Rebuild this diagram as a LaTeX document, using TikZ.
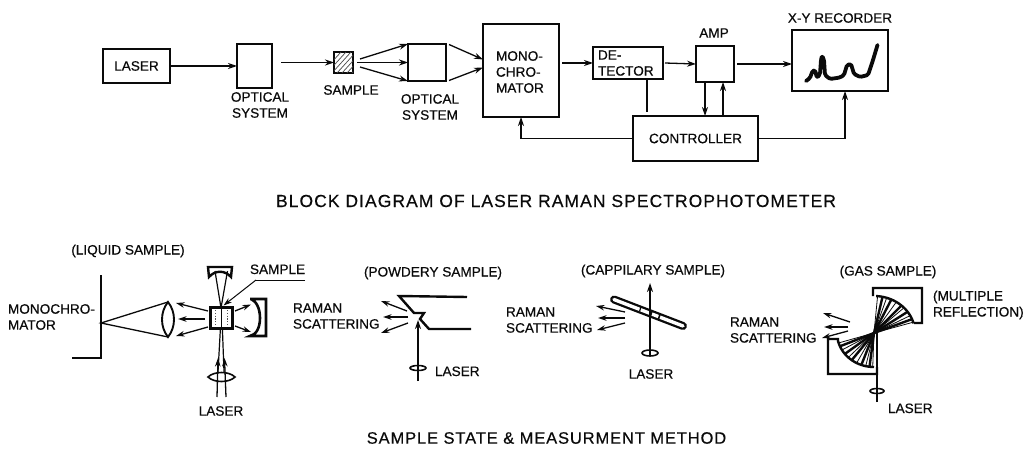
\documentclass[tikz,border=0pt]{standalone}
\usepackage{fontspec}
\setmainfont{Liberation Sans}[FakeBold=0.5]
\usetikzlibrary{arrows.meta,calc}
\tikzset{
  bx/.style={draw=ink,line width=2.4pt,inner sep=0pt,outer sep=0pt,fill=white,align=left},
  lab/.style={inner sep=0pt,outer sep=0pt,align=left,text=ink,font=\fontsize{13.6}{16}\selectfont\addfontfeature{FakeBold=0.5}},
  ttl/.style={inner sep=0pt,outer sep=0pt,text=ink,font=\fontsize{17.5}{20}\selectfont\addfontfeature{LetterSpace=6,FakeBold=0.5}},
  ttlb/.style={inner sep=0pt,outer sep=0pt,text=ink,font=\fontsize{16.5}{20}\selectfont\addfontfeature{LetterSpace=5.3,FakeBold=0.5}},
  arr/.style={draw=ink,line width=1.3pt,-{Stealth[length=9pt,width=6pt]}},
  arrb/.style={draw=ink,line width=1.3pt,-{Stealth[length=8.5pt,width=5.5pt]}},
  ln/.style={draw=ink,line width=1.3pt},
  thk/.style={draw=ink,line width=2.4pt,line join=miter},
  lens/.style={draw=ink,line width=1.6pt},
}
\definecolor{ink}{HTML}{0A0A0A}
\begin{document}
\begin{tikzpicture}[x=1pt,y=-1pt]
\useasboundingbox (0,0) rectangle (1030,449);
% ---- block diagram ----
\node[bx,minimum width=67pt,minimum height=34pt,lab] (laser) at (136.5,66) {LASER};
\node[bx,minimum width=35pt,minimum height=44pt] (opta) at (254.5,66) {};
\node[bx,minimum width=19pt,minimum height=21pt] (samp) at (343.5,62.5) {};
\begin{scope}
  \clip (samp.north west) rectangle (samp.south east);
  \foreach \d in {-12,-7,-2,3,8,13,18}
    \draw[ink!75,line width=.7pt] (334+\d,73) -- (353+\d,52);
\end{scope}
\node[bx,minimum width=38pt,minimum height=37pt] (optb) at (427,62.5) {};
\node[bx,minimum width=76pt,minimum height=93pt] (mono) at (521,70.5) {};
\node[lab,anchor=west] (monot) at (496,72) {MONO-\\CHRO-\\MATOR};
\node[bx,minimum width=70pt,minimum height=32pt] (det) at (628,63) {};
\node[lab,anchor=west] (dett) at (598,63) {DE-\\TECTOR};
\node[bx,minimum width=38pt,minimum height=36pt] (amp) at (715,64) {};
\node[bx,minimum width=96pt,minimum height=61pt] (rec) at (840,60.5) {};
\node[bx,minimum width=125pt,minimum height=45pt,lab] (ctl) at (695.5,138.5) {CONTROLLER};
\node[lab] (ampt) at (714,33) {AMP};
\node[lab] (rect) at (840,18) {X-Y RECORDER};
\node[lab,align=center] (opat) at (260,105) {OPTICAL\\SYSTEM};
\node[lab] (sampt) at (351,90) {SAMPLE};
\node[lab,align=center] (opbt) at (430,107) {OPTICAL\\SYSTEM};
\node[ttl] (t1) at (556,201) {BLOCK DIAGRAM OF LASER RAMAN SPECTROPHOTOMETER};
\node[ttlb] (t2) at (546.5,438) {SAMPLE STATE \& MEASURMENT METHOD};
% connectors
\draw[arr] (laser.east) -- (opta.west);
\draw[arr] ([xshift=9pt]opta.east |- samp.west) -- (samp.west);
\draw[arr] ([shift={(7,-3.5)}]samp.east) -- (optb.north west);
\draw[arr] ([shift={(4,0)}]samp.east) -- (optb.west);
\draw[arr] ([shift={(7,4.5)}]samp.east) -- (optb.south west);
\draw[arr] ([shift={(3,-18)}]optb.east) -- ([yshift=11pt]mono.west);
\draw[arr] ([shift={(3,18)}]optb.east) -- ([yshift=3pt]mono.west);
\draw[arr] ([xshift=3pt]mono.east |- det.west) -- (det.west);
\draw[arr] ([xshift=2pt]det.east) -- (amp.west);
\draw[arr] ([xshift=3pt]amp.east) -- (rec.west |- amp.east);
\draw[ln] ([xshift=19pt]det.south) -- ++(0,33);
\draw[arr] ([xshift=-10pt]amp.south) -- ([xshift=-10pt]amp.south |- ctl.north);
\draw[arr] ([xshift=8pt]amp.south |- ctl.north) -- ([xshift=8pt]amp.south);
\draw[arr] (ctl.east) -| ([xshift=5pt]rec.south);
\draw[arr] (ctl.west) -| (mono.south);
% recorder trace
\draw[ink,line width=3.8pt,line join=round,line cap=round,rounded corners=1.5pt]
  (806,81) -- (810,78) -- (812.5,71) -- (815,70) -- (817,78) -- (820,74) -- (821,60) -- (822,55.5) -- (824,60) -- (825,75) -- (830,79) -- (840,77.5) -- (844,75) -- (847,65) -- (851,64) -- (854,74) -- (860,77) -- (868,75) -- (873,60) -- (877.5,45);
% ---- liquid ----
\node[lab] (liqt) at (128,251) {(LIQUID SAMPLE)};
\node[lab,anchor=west] (mont) at (8,317) {MONOCHRO-\\MATOR};
\draw[thk] (101,275) -- (101,358) -- (72,358);
\coordinate (foc) at (101,323);
\coordinate (lt) at (168,302);
\coordinate (lb) at (168,337);
\draw[ln] (lt) -- (foc) -- (lb);
\draw[ink,line width=1.9pt] (lt) .. controls (160,312) and (160,327) .. (lb) .. controls (176,327) and (176,312) .. (lt) -- cycle;
\draw[arrb] (208,311) -- (176,303);
\draw[arrb] (205,319) -- (178,319);
\draw[arrb] (208,327) -- (176,336);
% beams
\draw[ln,line width=1.2pt] (218,372) -- (221,318);
\draw[ln,line width=1.2pt] (224,372) -- (222,318);
\draw[arrb] (217,397) -- (218,358);
\draw[arrb] (226,397) -- (224.5,358);
\draw[lens,fill=none] (208,377) .. controls (214,371) and (229,371) .. (235,377) .. controls (229,383) and (214,383) .. cycle;
% cell
\node[bx,minimum width=22pt,minimum height=21pt] (cell) at (221.5,318) {};
\draw[ink,line width=1.1pt] (221.5,308) -- (221.5,328);
\draw[ink!70,line width=1.8pt,dash pattern=on 1.2pt off 1.6pt] (215.5,310) -- (215.5,326);
\draw[ink!70,line width=1.8pt,dash pattern=on 1.2pt off 1.6pt] (227.5,310) -- (227.5,326);
% top mirror
\draw[ink,line width=2.4pt,line join=miter,fill=white] (208,267) -- (232,267) -- (231,277) .. controls (225,270) and (215,270) .. (209,277) -- cycle;
\draw[ln,line width=1.2pt] (215,271) -- (221,308);
\draw[ln,line width=1.2pt] (227.5,271) -- (221,308);
% right mirror
\draw[thk,line width=2.6pt] (250,299) -- (266,299) -- (266,336) -- (250,336) .. controls (256,335) and (260,328) .. (260,318) .. controls (260,308) and (256,301) .. (251,299);
\draw[arrb] (235,311) -- (251,304.5);
\draw[arrb] (235,326) -- (251,332);
% sample label
\node[lab,anchor=base west] (samt) at (250,274) {SAMPLE};
\coordinate (samr) at (305,280);
\coordinate (sam) at (256,280);
\draw[ink,line width=.6pt] (samr) -- (sam);
\draw[arrb,line width=1pt] (sam) -- (223.5,305.5);
\node[lab] (lasa) at (221,411) {LASER};
% ---- powdery ----
\node[lab] (powt) at (433,273) {(POWDERY SAMPLE)};
\node[lab,anchor=west] (rama) at (293,316) {RAMAN\\SCATTERING};
\draw[thk] (467,297) -- (399,296) -- (414,313) -- (424,313) -- (420,319) -- (429,329) -- (471,329);
\draw[arrb] (407,311) -- (381,301);
\draw[arrb] (408,317) -- (383,317);
\draw[arrb] (408,323) -- (381,333);
\draw[arr] (418,381) -- (418,320);
\draw[lens] (418,368) ellipse [x radius=8,y radius=2.5];
\node[lab,anchor=base west] (lasb) at (435,376) {LASER};
% ---- capillary ----
\node[lab] (capt) at (653,271) {(CAPPILARY SAMPLE)};
\node[lab,anchor=west] (ramb) at (506,320) {RAMAN\\SCATTERING};
\draw[ink,line width=8pt,line cap=round] (614,299.5) -- (683,326);
\draw[white,line width=3.4pt,line cap=round] (614,299.5) -- (683,326);
\draw[ink,line width=1.2pt] (641,306.8) -- (639.5,311.5);
\draw[ink,line width=1.6pt] (652,311) -- (650.5,315.8);
\draw[ink,line width=1.6pt] (660,314.2) -- (658.5,319);
\draw[arr] (650,356) -- (650,283);
\draw[lens] (650,353) ellipse [x radius=8,y radius=3];
\node[lab] (lasc) at (651,374) {LASER};
\draw[arrb] (625,312) -- (596,306);
\draw[arrb] (625,318) -- (598,318);
\draw[arrb] (625,323) -- (597,330);
% ---- gas ----
\node[lab] (gast) at (888,272) {(GAS SAMPLE)};
\node[lab,anchor=west] (mult) at (933,305) {(MULTIPLE\\REFLECTION)};
\node[lab,anchor=west] (ramc) at (730,330) {RAMAN\\SCATTERING};
\coordinate (gc) at (874,333);
\foreach \a/\w in {17/.8,22/2.4,28/.8,35/2.4,43/.8,48/2.4,57/.8,65/2.4,72/.8,78/2.4,85/.8}
  \draw[ink,line width=\w pt] (gc) -- ({874+41*cos(\a)},{333-37*sin(\a)});
\foreach \a/\w in {197/.8,203/2.4,210/.8,218/2.4,226/.8,233/2.4,242/.8,250/2.4,257/.8,263/2.4,268/.8}
  \draw[ink,line width=\w pt] (gc) -- ({874+37*cos(\a)},{333-34*sin(\a)});
\draw[ink,line width=2.4pt,line join=miter] (873,296) -- (873,288) -- (922,288) -- (922,323) -- (914,323)
  plot[domain=15:87,samples=24] ({874+41*cos(\x)},{333-37*sin(\x)});
\draw[ink,line width=2.4pt,line join=miter] (838,342) -- (838,339) -- (828,339) -- (828,374) -- (877,374) -- (877,367)
  plot[domain=270:193,samples=24] ({874+37*cos(\x)},{333-34*sin(\x)});
\draw[ln] (877,402) -- (877,333);
\draw[lens] (877,391) ellipse [x radius=7,y radius=2.5];
\node[lab,anchor=base west] (lasd) at (888,413) {LASER};
\draw[arrb] (850,322) -- (823,313);
\draw[arrb] (848,327) -- (824,327);
\draw[arrb] (848,331) -- (822,338);
\end{tikzpicture}
\end{document}
